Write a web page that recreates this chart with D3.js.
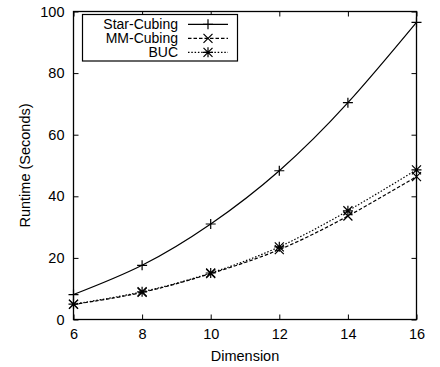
<!DOCTYPE html>
<html>
<head>
<meta charset="utf-8">
<script src="https://cdn.jsdelivr.net/npm/d3@7"></script>
<style>
  body { margin: 0; background: #fff; }
  svg { display: block; font-family: "Liberation Sans", Arial, Helvetica, sans-serif; }
</style>
</head>
<body>
<svg id="chart" width="440" height="367"></svg>
<script>
// Runtime vs. dimension for three cubing algorithms
const dimensions = [6, 8, 10, 12, 14, 16];
const starCubing = [8.1, 17.6, 31.0, 48.3, 70.4, 96.5];
const mmCubing   = [4.9, 8.8, 14.9, 22.7, 33.6, 46.4];
const buc        = [5.0, 9.0, 15.1, 23.6, 35.3, 48.6];
const xTicks = [6, 8, 10, 12, 14, 16];
const yTicks = [0, 20, 40, 60, 80, 100];

const seriesNames = ["Star-Cubing", "MM-Cubing", "BUC"];
const seriesValues = [starCubing, mmCubing, buc];
const dashes = [null, "3.5,2", "1.5,1.8"];
const markers = ["plus", "cross", "star"];

const svg = d3.select("#chart");
const mLeft = 73.5, mRight = 416.5, mTop = 11.5, mBottom = 319.5;

const x = d3.scaleLinear().domain([6, 16]).range([mLeft, mRight]);
const y = d3.scaleLinear().domain([0, 100]).range([mBottom, mTop]);

const tickLen = 5;
const fontSize = 14.5;
const legendFont = 14;

// axes: bottom / left carry labels, top / right mirror the ticks
const gx = svg.append("g").attr("transform", `translate(0,${mBottom})`)
  .call(d3.axisBottom(x).tickValues(xTicks).tickSize(-tickLen).tickPadding(9).tickFormat(d3.format("d")));
const gxt = svg.append("g").attr("transform", `translate(0,${mTop})`)
  .call(d3.axisTop(x).tickValues(xTicks).tickSize(-tickLen).tickFormat(""));
const gy = svg.append("g").attr("transform", `translate(${mLeft},0)`)
  .call(d3.axisLeft(y).tickValues(yTicks).tickSize(-tickLen).tickPadding(9).tickFormat(d3.format("d")));
const gyr = svg.append("g").attr("transform", `translate(${mRight},0)`)
  .call(d3.axisRight(y).tickValues(yTicks).tickSize(-tickLen).tickFormat(""));

[gx, gxt, gy, gyr].forEach(g => {
  g.select(".domain").remove();
  g.selectAll(".tick line").attr("stroke", "#000").attr("stroke-width", 1);
  g.selectAll(".tick text").attr("font-size", fontSize).attr("fill", "#000")
    .attr("font-family", "Liberation Sans, Arial, sans-serif");
});

// frame
svg.append("rect")
  .attr("x", mLeft).attr("y", mTop)
  .attr("width", mRight - mLeft).attr("height", mBottom - mTop)
  .attr("fill", "none").attr("stroke", "#000").attr("stroke-width", 1.3);

// axis titles
svg.append("text")
  .attr("x", (mLeft + mRight) / 2).attr("y", 361)
  .attr("text-anchor", "middle").attr("font-size", fontSize)
  .text("Dimension");
svg.append("text")
  .attr("transform", `translate(30,${(mTop + mBottom) / 2}) rotate(-90)`)
  .attr("text-anchor", "middle").attr("font-size", fontSize)
  .text("Runtime (Seconds)");

function drawMarker(g, type, cx, cy, s) {
  const p = d3.path();
  if (type === "plus" || type === "star") {
    p.moveTo(cx - s, cy); p.lineTo(cx + s, cy);
    p.moveTo(cx, cy - s); p.lineTo(cx, cy + s);
  }
  if (type === "cross" || type === "star") {
    const d = s * 0.9;
    p.moveTo(cx - d, cy - d); p.lineTo(cx + d, cy + d);
    p.moveTo(cx - d, cy + d); p.lineTo(cx + d, cy - d);
  }
  g.append("path").attr("d", p.toString())
    .attr("stroke", "#000").attr("stroke-width", 1.2).attr("fill", "none");
}

const line = d3.line()
  .x((d, i) => x(dimensions[i]))
  .y(d => y(d))
  .curve(d3.curveNatural);

const plot = svg.append("g");
seriesValues.forEach((vals, k) => {
  plot.append("path")
    .attr("d", line(vals))
    .attr("fill", "none").attr("stroke", "#000").attr("stroke-width", 1.2)
    .attr("stroke-dasharray", dashes[k]);
  vals.forEach((v, i) => drawMarker(plot, markers[k], x(dimensions[i]), y(v), 5));
});

// legend
const legend = svg.append("g");
legend.append("rect")
  .attr("x", 82.5).attr("y", 14.5).attr("width", 155).attr("height", 46.5)
  .attr("fill", "#fff").attr("stroke", "#000").attr("stroke-width", 1.2);
seriesNames.forEach((name, k) => {
  const ly = 24.3 + k * 14;
  legend.append("text")
    .attr("x", 178).attr("y", ly).attr("dy", "0.36em")
    .attr("text-anchor", "end").attr("font-size", legendFont)
    .text(name);
  legend.append("line")
    .attr("x1", 188).attr("x2", 228).attr("y1", ly).attr("y2", ly)
    .attr("stroke", "#000").attr("stroke-width", 1.2)
    .attr("stroke-dasharray", dashes[k]);
  drawMarker(legend, markers[k], 208, ly, 5);
});
</script>
</body>
</html>
